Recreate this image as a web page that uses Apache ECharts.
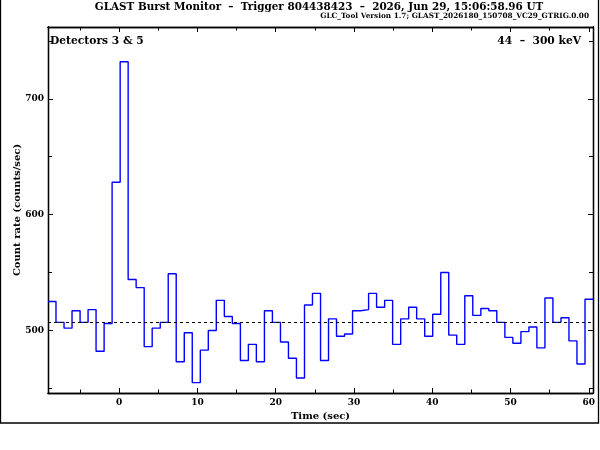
<!DOCTYPE html>
<html>
<head>
<meta charset="utf-8">
<title>GLAST Burst Monitor</title>
<script src="https://cdn.jsdelivr.net/npm/echarts@6.0.0/dist/echarts.min.js"></script>
<style>
    html, body { margin: 0; padding: 0; background: #fff; }
    #chart { width: 600px; height: 450px; }
</style>
</head>
<body>
<div id="chart"></div>
<script>
// bin edges (sec since trigger), 1.024 s bins
var binEdges = [
    -9.09, -8.07, -7.04, -6.02, -4.99, -3.97, -2.95, -1.92, -0.90, 0.13,
    1.15, 2.17, 3.20, 4.22, 5.25, 6.27, 7.29, 8.32, 9.34, 10.37,
    11.39, 12.41, 13.44, 14.46, 15.49, 16.51, 17.53, 18.56, 19.58, 20.61,
    21.63, 22.65, 23.68, 24.70, 25.73, 26.75, 27.77, 28.80, 29.82, 30.85,
    31.87, 32.89, 33.92, 34.94, 35.97, 36.99, 38.01, 39.04, 40.06, 41.09,
    42.11, 43.13, 44.16, 45.18, 46.21, 47.23, 48.25, 49.28, 50.30, 51.33,
    52.35, 53.37, 54.40, 55.42, 56.45, 57.47, 58.49, 59.52, 60.54
];
// count rate per bin (counts/sec)
var countRates = [
    525, 507, 502, 517, 507, 518, 482, 506, 628, 732,
    544, 537, 486, 502, 507, 549, 473, 498, 455, 483,
    500, 526, 512, 506, 474, 488, 473, 517, 507, 490,
    476, 459, 522, 532, 474, 510, 495, 497, 517, 518,
    532, 520, 526, 488, 510, 520, 510, 495, 514, 550,
    496, 488, 530, 513, 519, 517, 507, 494, 489, 499,
    503, 485, 528, 507, 511, 491, 471, 527
];
var background = 507.5;

var timeTicks = [0, 10, 20, 30, 40, 50, 60];
var timeMinorTicks = [-5, 5, 15, 25, 35, 45, 55];
var rateTicks = [500, 600, 700];
var rateMinorTicks = [450, 550, 650, 750];

var titleText = 'GLAST Burst Monitor  \u2013  Trigger 804438423  \u2013  2026, Jun 29, 15:06:58.96 UT';
var subText = 'GLC_Tool Version 1.7; GLAST_2026180_150708_VC29_GTRIG.0.00';
var detText = 'Detectors 3 & 5';
var energyText = '44  \u2013  300 keV';

var font = "'DejaVu Serif', serif";

var stepData = [];
for (var i = 0; i < countRates.length; i++) {
    stepData.push([binEdges[i], countRates[i]]);
}
// close the last bin
stepData.push([binEdges[binEdges.length - 1], countRates[countRates.length - 1]]);

function timeAxis(pos, ticks, len, labels) {
    return {
        type: 'value',
        position: pos,
        min: -9.09,
        max: 60.54,
        axisLine: { show: true, onZero: false, lineStyle: { color: '#000', width: 1.3 } },
        axisTick: { show: true, inside: true, length: len, customValues: ticks,
            lineStyle: { color: '#000', width: 1 } },
        axisLabel: labels ? {
            show: true, customValues: ticks, margin: 5, color: '#000',
            fontFamily: font, fontWeight: 'bold', fontSize: 9
        } : { show: false },
        splitLine: { show: false }
    };
}

function rateAxis(pos, ticks, len, labels) {
    return {
        type: 'value',
        position: pos,
        min: 446,
        max: 762,
        axisLine: { show: true, onZero: false, lineStyle: { color: '#000', width: 1.3 } },
        axisTick: { show: true, inside: true, length: len, customValues: ticks,
            lineStyle: { color: '#000', width: 1 } },
        axisLabel: labels ? {
            show: true, customValues: ticks, margin: 4, color: '#000',
            fontFamily: font, fontWeight: 'bold', fontSize: 9
        } : { show: false },
        splitLine: { show: false }
    };
}

var xMain = timeAxis('bottom', timeTicks, 5, true);
xMain.name = 'Time (sec)';
xMain.nameLocation = 'middle';
xMain.nameGap = 18;
xMain.nameMoveOverlap = false;
xMain.nameTextStyle = { color: '#000', fontFamily: font, fontWeight: 'bold', fontSize: 10 };

var yMain = rateAxis('left', rateTicks, 5, true);
yMain.name = 'Count rate (counts/sec)';
yMain.nameLocation = 'middle';
yMain.nameGap = 26;
yMain.nameMoveOverlap = false;
yMain.nameTextStyle = { color: '#000', fontFamily: font, fontWeight: 'bold', fontSize: 10 };

var option = {
    animation: false,
    backgroundColor: '#fff',
    grid: { left: 48, right: 7, top: 27, bottom: 57, containLabel: false, outerBoundsMode: 'none' },
    xAxis: [
        xMain,
        timeAxis('bottom', timeMinorTicks, 3.5, false),
        timeAxis('top', timeTicks, 5, false),
        timeAxis('top', timeMinorTicks, 3.5, false)
    ],
    yAxis: [
        yMain,
        rateAxis('left', rateMinorTicks, 4, false),
        rateAxis('right', rateTicks, 5, false),
        rateAxis('right', rateMinorTicks, 4, false)
    ],
    graphic: [
        {
            type: 'rect', silent: true,
            shape: { x: 0.5, y: -2, width: 598, height: 425 },
            style: { fill: 'none', stroke: '#000', lineWidth: 1.3 }
        },
        {
            type: 'text', x: 319, y: 7,
            style: { text: titleText, fill: '#000', font: 'bold 10.4px ' + font,
                textAlign: 'center', textVerticalAlign: 'middle' }
        },
        {
            type: 'text', x: 589, y: 16.5,
            style: { text: subText, fill: '#000', font: 'bold 7.3px ' + font,
                textAlign: 'right', textVerticalAlign: 'middle' }
        },
        {
            type: 'text', x: 50, y: 41,
            style: { text: detText, fill: '#000', font: 'bold 10.7px ' + font,
                textAlign: 'left', textVerticalAlign: 'middle' }
        },
        {
            type: 'text', x: 581, y: 41,
            style: { text: energyText, fill: '#000', font: 'bold 10.7px ' + font,
                textAlign: 'right', textVerticalAlign: 'middle' }
        }
    ],
    series: [
        {
            name: 'rate',
            type: 'line',
            step: 'end',
            xAxisIndex: 0,
            yAxisIndex: 0,
            data: stepData,
            symbol: 'none',
            clip: true,
            lineStyle: { color: '#0000ff', width: 1.4 },
            markLine: {
                silent: true,
                symbol: 'none',
                label: { show: false },
                lineStyle: { color: '#000', type: [3, 3], width: 1 },
                data: [{ yAxis: background }]
            }
        }
    ]
};

echarts.init(document.getElementById('chart')).setOption(option);
</script>
</body>
</html>
